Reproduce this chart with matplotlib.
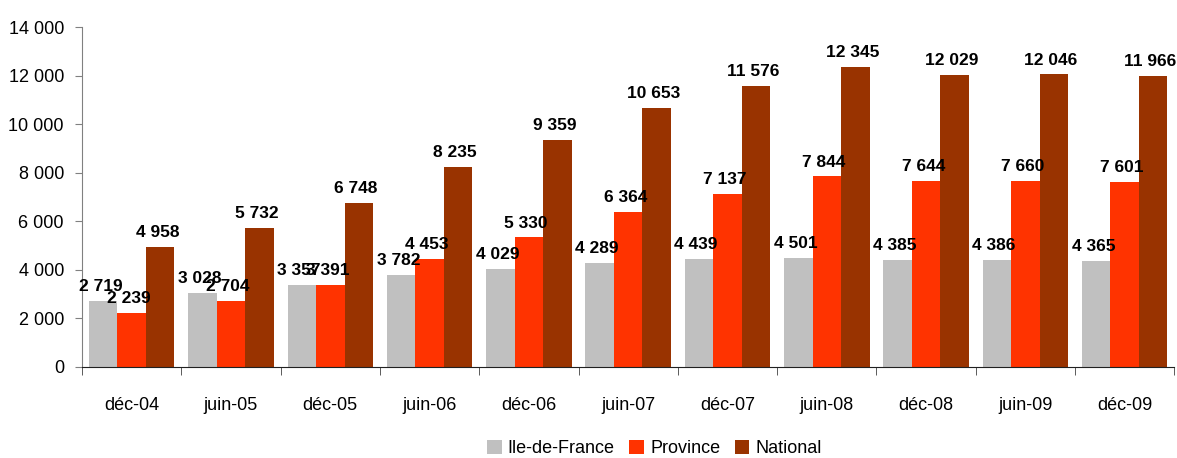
import matplotlib.pyplot as plt
import numpy as np
from matplotlib.ticker import FuncFormatter

periods = ["déc-04", "juin-05", "déc-05", "juin-06", "déc-06", "juin-07",
           "déc-07", "juin-08", "déc-08", "juin-09", "déc-09"]
idf = [2719, 3028, 3357, 3782, 4029, 4289, 4439, 4501, 4385, 4386, 4365]
province = [2239, 2704, 3391, 4453, 5330, 6364, 7137, 7844, 7644, 7660, 7601]
national = [4958, 5732, 6748, 8235, 9359, 10653, 11576, 12345, 12029, 12046,
            11966]
series_names = ["Ile-de-France", "Province", "National"]
colors = ["#c0c0c0", "#ff3300", "#993300"]

plt.rcParams['font.family'] = ['Liberation Sans', 'DejaVu Sans']


def fmt(v):
  return f"{int(v):,}".replace(",", " ")


fig = plt.figure(figsize=(11.77, 4.58), dpi=100)
ax = fig.add_axes([0.0697, 0.199, 0.928, 0.742])

x = np.arange(len(periods))
w = 0.287
for k, vals in enumerate([idf, province, national]):
  pos = x + (k - 1) * w
  ax.bar(pos, vals, w, color=colors[k], label=series_names[k])
  for xi, v in zip(pos, vals):
    ax.annotate(fmt(v), (xi, v), xytext=(-2, 5), textcoords="offset points",
                ha="center", va="bottom", fontsize=12.5, fontweight="bold")

ax.set_xlim(-0.5, len(periods) - 0.5)
ax.set_ylim(0, 14000)
ax.set_yticks(np.arange(0, 14001, 2000))
ax.yaxis.set_major_formatter(FuncFormatter(lambda v, p: fmt(v)))
ax.set_xticks(x)
ax.set_xticklabels(periods)
ax.set_xticks(np.arange(-0.5, len(periods)), minor=True)
ax.tick_params(axis="x", which="major", length=0, pad=22, labelsize=13)
ax.tick_params(axis="x", which="minor", length=6, color="#404040")
ax.tick_params(axis="y", length=5, color="#808080", labelsize=13, pad=8)
for s in ["top", "right"]:
  ax.spines[s].set_visible(False)
ax.spines["left"].set_color("#808080")
ax.spines["bottom"].set_color("#202020")

fig.legend(loc="center", bbox_to_anchor=(0.556, 0.02), ncol=3,
           frameon=False, fontsize=13, handlelength=0.8, handleheight=0.8,
           handletextpad=0.35, columnspacing=0.8)

fig.savefig("out.png", dpi=100)
